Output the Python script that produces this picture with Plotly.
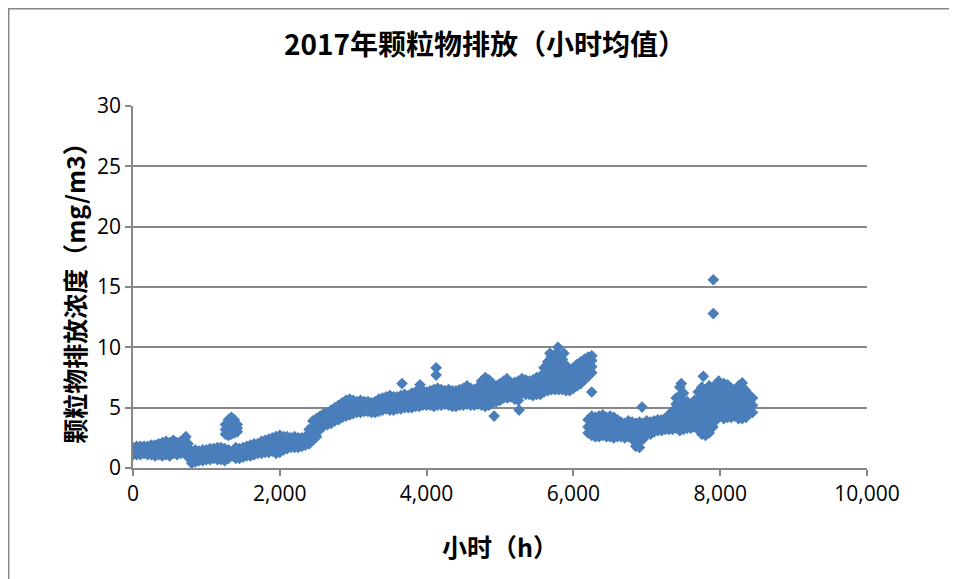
import plotly.graph_objs as go

# readings grouped by hour (mg/m3)
hours_a = [0, 50, 100, 150, 200, 250, 300, 350, 400, 450, 500, 550, 600, 650, 700, 750,
           800, 850, 900, 950, 1000, 1050, 1100, 1150, 1200, 1250, 1300, 1350, 1400, 1450,
           1500, 1550, 1600, 1650, 1700, 1750, 1800, 1850, 1900, 1950, 2000, 2050, 2100,
           2150, 2200, 2250, 2300, 2350]
conc_a = [[1.1, 1.4, 1.7], [1.1, 1.4, 1.8], [1.1, 1.5, 1.8], [1.2, 1.5, 1.8], [1.1, 1.4, 1.8],
          [1.1, 1.5, 1.9], [1.0, 1.5, 1.9], [1.1, 1.5, 2.0], [1.0, 1.5, 2.1], [1.1, 1.6, 2.2],
          [1.0, 1.5, 2.1], [1.2, 1.7, 2.3], [1.1, 1.6, 2.1], [1.2, 1.7, 2.2], [1.3, 1.8, 2.3],
          [0.9, 1.4, 2.0], [0.4, 0.9, 1.4], [0.5, 1.0, 1.5], [0.6, 1.0, 1.4], [0.6, 1.0, 1.5],
          [0.7, 1.1, 1.5], [0.7, 1.1, 1.6], [0.8, 1.2, 1.6], [0.7, 1.2, 1.7], [0.7, 1.2, 1.7],
          [0.6, 1.1, 1.6], [0.8, 1.2, 1.5], [1.0, 1.3], [0.8, 1.2, 1.7], [0.8, 1.2, 1.6],
          [0.9, 1.3, 1.7], [1.0, 1.4, 1.8], [1.0, 1.5, 1.9], [1.1, 1.5, 2.0], [1.2, 1.6, 2.0],
          [1.2, 1.7, 2.2], [1.3, 1.8, 2.3], [1.3, 1.8, 2.4], [1.4, 1.9, 2.5], [1.2, 1.7, 2.2, 2.6],
          [1.3, 1.8, 2.3, 2.7], [1.5, 2.0, 2.6], [1.6, 2.1, 2.6], [1.7, 2.1, 2.5], [1.7, 2.2, 2.6],
          [1.7, 2.1, 2.5], [1.8, 2.2, 2.5], [1.9, 2.3, 2.6]]

hours_b = [1260, 1300, 1340, 1380, 1420]
conc_b = [[2.8, 3.2, 3.6], [2.7, 3.1, 3.6, 4.0], [2.8, 3.3, 3.8, 4.2], [2.9, 3.4, 4.0], [3.0, 3.3, 3.6]]

hours_c = [2400, 2450, 2500, 2550, 2600, 2650, 2700, 2750, 2800, 2850, 2900, 2950, 3000,
           3050, 3100, 3150, 3200, 3250, 3300, 3350, 3400, 3450, 3500, 3550, 3600, 3650,
           3700, 3750, 3800, 3850, 3900, 3950, 4000, 4050, 4100, 4150, 4200, 4250, 4300,
           4350, 4400, 4450, 4500, 4550, 4600, 4650]
conc_c = [[2.0, 2.5, 3.2], [2.3, 2.8, 3.3, 3.9], [2.6, 3.1, 3.6, 4.1], [3.2, 3.7, 4.3],
          [3.5, 4.0, 4.5], [3.6, 4.1, 4.6], [3.7, 4.2, 4.8], [3.9, 4.4, 5.0], [4.0, 4.6, 5.2],
          [4.2, 4.8, 5.4], [4.3, 4.9, 5.6], [4.4, 5.0, 5.7], [4.5, 5.0, 5.6], [4.6, 5.0, 5.5],
          [4.6, 5.1, 5.6], [4.7, 5.1, 5.5], [4.7, 5.1, 5.5], [4.6, 5.0, 5.4], [4.6, 5.0, 5.5],
          [4.7, 5.2, 5.7], [4.8, 5.3, 5.8], [4.9, 5.4, 5.9], [4.8, 5.4, 6.0], [4.8, 5.3, 5.9],
          [4.9, 5.4, 5.9], [4.9, 5.4, 6.0], [5.0, 5.5, 6.1], [5.0, 5.5, 6.0], [5.0, 5.6, 6.2],
          [5.1, 5.7, 6.3], [5.1, 5.7, 6.3], [5.2, 5.8, 6.4], [5.2, 5.7, 6.3], [5.2, 5.8, 6.4],
          [5.1, 5.8, 6.5], [5.2, 5.9, 6.6], [5.2, 5.8, 6.5], [5.3, 5.8, 6.4], [5.2, 5.8, 6.5],
          [5.1, 5.7, 6.4], [5.1, 5.7, 6.4], [5.2, 5.8, 6.5], [5.2, 5.9, 6.6], [5.3, 6.0, 6.8],
          [5.2, 5.9, 6.6], [5.2, 5.8, 6.5]]

hours_d = [4700, 4750, 4800, 4850, 4900, 4950, 5000, 5050, 5100, 5150, 5200, 5250, 5300,
           5350, 5400, 5450, 5500, 5550, 5600, 5650, 5700, 5750, 5800, 5850, 5900, 5950,
           6000, 6050, 6100, 6150, 6200, 6250]
conc_d = [[5.3, 6.0, 6.7], [5.2, 5.7, 6.2, 6.7, 7.2], [5.1, 5.7, 6.3, 6.9, 7.5],
          [5.2, 5.8, 6.3, 6.8, 7.3], [5.4, 5.9, 6.5, 7.0], [5.5, 6.1, 6.8], [5.6, 6.1, 6.6, 7.0],
          [5.8, 6.3, 6.8, 7.2], [5.8, 6.3, 6.8, 7.3], [5.9, 6.4, 7.0], [5.7, 6.2, 6.7, 7.1],
          [5.6, 6.1, 6.7, 7.2], [6.2, 6.8, 7.4], [6.1, 6.7, 7.3], [6.1, 6.6, 7.2], [6.0, 6.6, 7.3],
          [6.1, 6.6, 7.1, 7.5], [6.1, 6.6, 7.1, 7.6], [6.3, 6.8, 7.3, 7.8, 8.3],
          [6.4, 6.9, 7.4, 7.9, 8.4, 8.8], [6.5, 7.0, 7.5, 8.0, 8.6, 9.2],
          [6.5, 7.0, 7.6, 8.2, 8.8, 9.4], [6.5, 7.0, 7.6, 8.2, 8.8, 9.3],
          [6.5, 7.0, 7.5, 8.0, 8.5, 9.0], [6.4, 6.9, 7.4, 8.0, 8.5], [6.4, 6.9, 7.5, 8.0],
          [6.6, 7.1, 7.7, 8.3], [6.8, 7.4, 8.0, 8.6], [7.0, 7.6, 8.2, 8.8], [7.3, 7.9, 8.5, 9.0],
          [7.6, 8.1, 8.7, 9.2], [7.9, 8.4, 8.9, 9.3]]

hours_e = [6200, 6250, 6300, 6350, 6400, 6450, 6500, 6550, 6600, 6650, 6700, 6750, 6800,
           6850, 6900, 6950, 7000, 7050, 7100, 7150, 7200, 7250, 7300, 7350, 7400, 7450,
           7500, 7550, 7600, 7650, 7700, 7750, 7800, 7850, 7900, 7950, 8000, 8050, 8100,
           8150, 8200, 8250, 8300, 8350, 8400, 8440]
conc_e = [[2.9, 3.4, 4.0], [2.7, 3.2, 3.8, 4.3], [2.6, 3.1, 3.7, 4.2], [2.6, 3.2, 3.8, 4.3],
          [2.7, 3.3, 3.9, 4.4], [2.6, 3.1, 3.7, 4.2], [2.6, 3.2, 3.8, 4.3], [2.5, 3.1, 3.7, 4.2],
          [2.6, 3.1, 3.6, 4.0], [2.6, 3.2, 3.8], [2.5, 3.1, 3.7], [2.6, 3.2, 3.9],
          [2.4, 3.0, 3.5, 3.8], [1.8, 2.3, 2.8, 3.3, 3.7], [1.7, 2.2, 2.7, 3.2, 3.8],
          [2.4, 2.9, 3.4, 3.7], [2.8, 3.3, 3.9], [2.8, 3.3, 3.8], [3.0, 3.5, 3.9], [3.1, 3.6, 4.0],
          [3.1, 3.6, 4.0], [3.2, 3.7, 4.1], [3.2, 3.8, 4.4], [3.2, 3.7, 4.2, 4.7],
          [3.3, 3.8, 4.3, 4.8, 5.3, 5.8], [3.1, 3.6, 4.2, 4.8, 5.4, 6.0, 6.7],
          [3.2, 3.7, 4.3, 4.9, 5.5, 6.2], [3.3, 3.8, 4.3, 4.9, 5.5], [3.3, 3.8, 4.3, 4.8, 5.2],
          [3.4, 3.9, 4.4, 5.0, 5.6], [3.2, 3.7, 4.3, 4.9, 5.6, 6.3],
          [2.8, 3.3, 3.9, 4.5, 5.1, 5.7, 6.2, 6.7], [2.7, 3.2, 3.8, 4.4, 5.0, 5.5, 6.0, 6.5],
          [2.9, 3.4, 4.0, 4.6, 5.2, 5.7, 6.3, 6.8], [3.4, 3.9, 4.5, 5.1, 5.7, 6.2, 6.7],
          [4.0, 4.5, 5.0, 5.5, 6.0, 6.5, 6.9], [4.3, 4.8, 5.3, 5.8, 6.3, 6.8],
          [4.1, 4.6, 5.2, 5.7, 6.3, 7.0], [4.2, 4.7, 5.3, 5.8, 6.4, 6.9],
          [4.2, 4.7, 5.2, 5.7, 6.2, 6.6], [4.3, 4.8, 5.3, 5.9, 6.5], [4.1, 4.6, 5.2, 5.8, 6.3, 6.8],
          [4.1, 4.6, 5.2, 5.7, 6.2, 6.7], [4.2, 4.7, 5.2, 5.8, 6.4], [4.5, 5.0, 5.5, 6.0],
          [4.6, 5.2, 5.8]]

# isolated points
outlier_hours = [720, 3665, 3910, 4130, 4130, 4920, 5095, 5260, 5680, 5790, 5870, 6250,
                 6935, 7470, 7770, 7980, 8300, 7906, 7906]
outlier_conc = [2.6, 7.0, 6.9, 8.3, 7.7, 4.3, 7.4, 4.8, 9.5, 10.0, 9.5, 6.3,
                5.05, 7.0, 7.6, 7.2, 7.05, 15.6, 12.8]

x_ticks = [0, 2000, 4000, 6000, 8000, 10000]
y_ticks = [0, 5, 10, 15, 20, 25, 30]

xs, ys = [], []
for hrs, conc in [(hours_a, conc_a), (hours_b, conc_b), (hours_c, conc_c),
                  (hours_d, conc_d), (hours_e, conc_e)]:
	for h, vals in zip(hrs, conc):
		xs += [h] * len(vals)
		ys += vals
xs += outlier_hours
ys += outlier_conc

grey = '#878787'
cjk = 'Noto Sans CJK SC'

fig = go.Figure(go.Scatter(
	x=xs, y=ys, mode='markers',
	marker=dict(symbol='diamond', size=9, color='#4a7ebb', line=dict(width=0)),
	showlegend=False, hoverinfo='x+y'))

# page body adds an 8px offset, so the figure is 8px smaller
fig.update_layout(
	width=949, height=571,
	margin=dict(l=125, r=90, t=98, b=111),
	paper_bgcolor='white', plot_bgcolor='white',
	font=dict(family=cjk, color='black'),
	title=dict(text='<b>2017年颗粒物排放（小时均值）</b>', x=0.4796, xref='paper',
	           xanchor='center', y=0.935, yanchor='middle', font=dict(size=28, family=cjk)),
	# outer chart frame, right and bottom edges fall outside the picture
	shapes=[dict(type='rect', xref='paper', yref='paper',
	             x0=-0.1693, x1=1.3, y0=-0.4, y1=1.2686,
	             line=dict(color=grey, width=1.5), fillcolor='rgba(0,0,0,0)', layer='below')],
)

fig.update_xaxes(
	range=[0, 10000], tickvals=x_ticks, tickformat=',d',
	showgrid=False, zeroline=False,
	showline=True, linecolor=grey, linewidth=1.5,
	ticks='outside', ticklen=6, tickcolor=grey, tickwidth=1.5,
	tickfont=dict(family='Open Sans', size=21, color='black'),
	title=dict(text='<b>小时（h）</b>', font=dict(size=25, family=cjk), standoff=34))

fig.update_yaxes(
	range=[0, 30], tickvals=y_ticks,
	showgrid=True, gridcolor=grey, gridwidth=1.5, zeroline=False,
	showline=True, linecolor=grey, linewidth=1.5,
	ticks='outside', ticklen=6, tickcolor=grey, tickwidth=1.5,
	tickfont=dict(family='Open Sans', size=21, color='black'),
	title=dict(text='<b>颗粒物排放浓度（mg/m3）</b>', font=dict(size=25, family=cjk), standoff=4))

fig.write_html("out.html")
